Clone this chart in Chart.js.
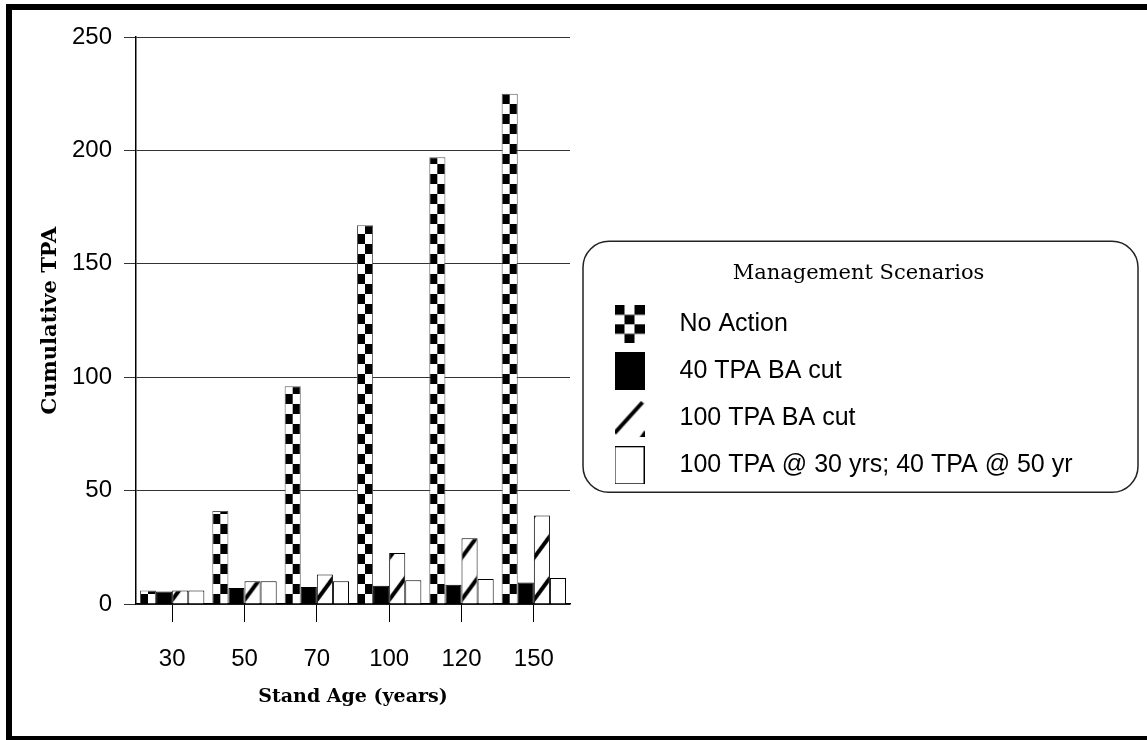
<!DOCTYPE html>
<html>
<head>
<meta charset="utf-8">
<script src="https://cdn.jsdelivr.net/npm/chart.js@4"></script>
<style>
  html, body { margin: 0; padding: 0; background: #fff; overflow: hidden; }
  #wrap { position: relative; width: 1147px; height: 740px; }
  #cumulativeTpa { position: absolute; left: 0; top: 0; }
  #frame {
    position: absolute; left: 6px; top: 4px;
    width: 1200px; height: 726px;
    border: 6px solid #000; pointer-events: none;
  }
</style>
</head>
<body>
<div id="wrap">
  <canvas id="cumulativeTpa" width="1147" height="740"></canvas>
  <div id="frame"></div>
</div>
<script>
const standAges = ['30', '50', '70', '100', '120', '150']
const scenarioNames = ['No Action', '40 TPA BA cut', '100 TPA BA cut', '100 TPA @ 30 yrs; 40 TPA @ 50 yr']

const noAction = [6, 41, 96, 167, 197, 225]
const cut40 = [5.5, 7, 7.5, 8, 8.5, 9.5]
const cut100 = [6, 10, 13, 22.5, 29, 39]
const cut100Then40 = [6, 10, 10, 10.5, 11, 11.5]

const yTicks = [0, 50, 100, 150, 200, 250]

const CATEGORY_PCT = 0.89
const LEGEND_WIDTH = 577

function makeTile(w, h, paint) {
    const t = document.createElement('canvas')
    t.width = w
    t.height = h
    paint(t.getContext('2d'))
    return t
}

// repeating fills, anchored at each bar's left edge and the zero line
const checkerTile = makeTile(16, 20, g => {
    g.fillStyle = '#fff'
    g.fillRect(0, 0, 16, 20)
    g.fillStyle = '#000'
    g.fillRect(8, 0, 8, 10)
    g.fillRect(0, 10, 8, 10)
})

const hatchTile = makeTile(16, 42, g => {
    g.fillStyle = '#fff'
    g.fillRect(0, 0, 16, 42)
    g.strokeStyle = '#000'
    g.lineWidth = 4
    g.beginPath()
    g.moveTo(-2, 40.5)
    g.lineTo(18, 13.5)
    g.stroke()
})

function patternFill(tile) {
    return (c) => {
        const chart = c.chart
        const x = chart.scales.x
        const y = chart.scales.y
        if (c.type !== 'data' || !x || !y) return '#fff'
        const group = (x.width / standAges.length) * CATEGORY_PCT
        const barW = group / 4
        const left = x.getPixelForValue(c.dataIndex) - group / 2 + c.datasetIndex * barW
        const p = chart.ctx.createPattern(tile, 'repeat')
        p.setTransform(new DOMMatrix([1, 0, 0, 1, left, y.getPixelForValue(0)]))
        return p
    }
}

// legend swatches
const legendIcons = [
    makeTile(30, 38, g => {
        g.fillStyle = '#fff'
        g.fillRect(0, 0, 30, 38)
        g.fillStyle = '#000'
        for (let r = 0; r < 4; r++) {
            for (let k = 0; k < 3; k++) {
                if ((r + k) % 2 === 0) g.fillRect(k * 10, r * 9.5, 10, 9.5)
            }
        }
    }),
    makeTile(30, 38, g => {
        g.fillStyle = '#000'
        g.fillRect(0, 0, 30, 38)
    }),
    makeTile(30, 38, g => {
        g.fillStyle = '#fff'
        g.fillRect(0, 0, 30, 38)
        g.strokeStyle = '#000'
        g.lineWidth = 4
        g.beginPath()
        g.moveTo(0, 34)
        g.lineTo(28, 3)
        g.stroke()
        g.fillStyle = '#000'
        g.beginPath()
        g.moveTo(30, 31)
        g.lineTo(30, 38)
        g.lineTo(25, 38)
        g.fill()
    }),
    makeTile(30, 38, g => {
        g.fillStyle = '#fff'
        g.fillRect(0, 0, 30, 38)
        g.strokeStyle = '#000'
        g.lineWidth = 1
        g.strokeRect(0.5, 0.5, 29, 37)
    })
]

// legend sits in a fixed-width column on the right
const legendWidth = {
    id: 'legendWidth',
    beforeLayout(chart) {
        const lg = chart.legend
        if (!lg || lg.widthPatched) return
        const fit = lg.fit
        lg.fit = function () {
            fit.call(this)
            this.width = LEGEND_WIDTH
        }
        lg.widthPatched = true
    }
}

// rounded frame around the legend
const legendFrame = {
    id: 'legendFrame',
    afterDraw(chart) {
        const lg = chart.legend
        const boxes = lg.legendHitBoxes
        if (!boxes || !boxes.length) return
        const last = boxes[boxes.length - 1]
        const left = lg.left + 13
        const right = chart.width - 9
        const top = boxes[0].top - 70.5
        const bottom = last.top + last.height + 14.5
        const c = chart.ctx
        c.save()
        c.strokeStyle = '#222'
        c.lineWidth = 1.5
        c.beginPath()
        c.roundRect(left, top, right - left, bottom - top, 26)
        c.stroke()
        c.restore()
    }
}

const context = document.getElementById('cumulativeTpa').getContext('2d')

new Chart(context, {
    type: 'bar',
    data: {
        labels: standAges,
        datasets: [{
            label: scenarioNames[0],
            data: noAction,
            backgroundColor: patternFill(checkerTile),
            borderColor: '#555',
            borderWidth: 1
        }, {
            label: scenarioNames[1],
            data: cut40,
            backgroundColor: '#000',
            borderColor: '#000',
            borderWidth: 1
        }, {
            label: scenarioNames[2],
            data: cut100,
            backgroundColor: patternFill(hatchTile),
            borderColor: '#000',
            borderWidth: 1
        }, {
            label: scenarioNames[3],
            data: cut100Then40,
            backgroundColor: '#fff',
            borderColor: '#000',
            borderWidth: 1
        }]
    },
    options: {
        responsive: false,
        animation: false,
        devicePixelRatio: 1,
        layout: {
            padding: { left: 38, top: 37, right: 0, bottom: 27.6 }
        },
        datasets: {
            bar: {
                categoryPercentage: CATEGORY_PCT,
                barPercentage: 1
            }
        },
        plugins: {
            tooltip: { enabled: false },
            legend: {
                position: 'right',
                align: 'center',
                title: {
                    display: true,
                    text: 'Management Scenarios',
                    color: '#000',
                    font: { family: 'DejaVu Serif', size: 21 },
                    padding: { top: 13, bottom: 2 }
                },
                labels: {
                    color: '#000',
                    font: { family: 'Liberation Sans', size: 25 },
                    usePointStyle: true,
                    pointStyleWidth: 75,
                    boxHeight: 25,
                    padding: 22,
                    generateLabels: () => scenarioNames.map((name, i) => ({
                        text: name,
                        pointStyle: legendIcons[i],
                        fillStyle: '#fff',
                        strokeStyle: '#fff',
                        lineWidth: 0,
                        hidden: false,
                        datasetIndex: i
                    }))
                }
            }
        },
        scales: {
            x: {
                afterFit: (axis) => { axis.height = 108.4 },
                grid: {
                    display: true,
                    offset: false,
                    drawOnChartArea: false,
                    drawTicks: true,
                    tickLength: 18,
                    color: '#000'
                },
                border: { display: true, color: '#000', width: 1.5 },
                ticks: {
                    color: '#000',
                    padding: 23,
                    font: { family: 'Liberation Sans', size: 24 }
                },
                title: {
                    display: true,
                    text: 'Stand Age (years)',
                    color: '#000',
                    font: { family: 'DejaVu Serif', size: 19, weight: 'bold' },
                    padding: { top: 12, bottom: 4 }
                }
            },
            y: {
                min: 0,
                max: 250,
                afterFit: (axis) => { axis.width = 98 },
                afterBuildTicks: (axis) => { axis.ticks = yTicks.map(v => ({ value: v })) },
                grid: {
                    color: '#333',
                    lineWidth: 1,
                    tickLength: 12
                },
                border: { display: true, color: '#000', width: 1.5 },
                ticks: {
                    color: '#000',
                    padding: 12,
                    font: { family: 'Liberation Sans', size: 24 }
                },
                title: {
                    display: true,
                    text: 'Cumulative TPA',
                    color: '#000',
                    font: { family: 'DejaVu Serif', size: 21, weight: 'bold' },
                    padding: { top: 0, bottom: 10 }
                }
            }
        }
    },
    plugins: [legendWidth, legendFrame]
});
</script>
</body>
</html>
